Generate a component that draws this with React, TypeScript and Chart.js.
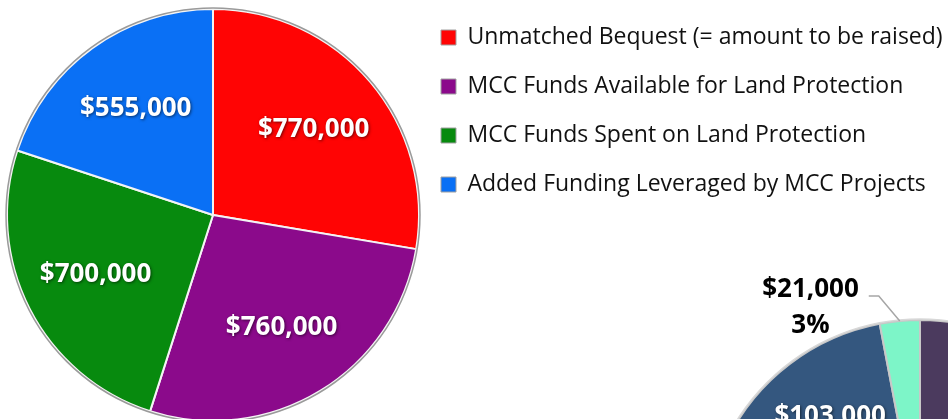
import React, { useEffect, useRef } from "react";
import { Chart, registerables } from "chart.js";

Chart.register(...registerables);

// ---- Data ----
const mainLabels = [
  "Unmatched Bequest (= amount to be raised)",
  "MCC Funds Available for Land Protection",
  "MCC Funds Spent on Land Protection",
  "Added Funding Leveraged by MCC Projects",
];
const mainValues = [770000, 760000, 700000, 555000];
const mainColors = ["#ff0404", "#8b0a8b", "#078a0e", "#0a70f5"];

const subLabels = ["Remaining", "Leveraged", "Other"];
const subValues = [576000, 103000, 21000];
const subColors = ["#4b3a5e", "#34577f", "#7df5c8"];

const FONT = '"Open Sans", "Noto Sans", sans-serif';

const fmt = (v: number) => "$" + v.toLocaleString("en-US");

const sliceLabels = {
  id: "sliceLabels",
  afterDatasetsDraw(chart: any, _args: any, opts: any) {
    const ctx = chart.ctx as CanvasRenderingContext2D;
    const meta = chart.getDatasetMeta(0);
    const data = chart.data.datasets[0].data as number[];
    const total = data.reduce((a, b) => a + b, 0);
    ctx.save();
    // outer ring
    const first: any = meta.data[0];
    if (first) {
      const p = first.getProps(["x", "y", "outerRadius"], true);
      ctx.beginPath();
      ctx.arc(p.x, p.y, p.outerRadius + 1, 0, Math.PI * 2);
      ctx.strokeStyle = opts.ringColor;
      ctx.lineWidth = 1.5;
      ctx.stroke();
    }
    ctx.font = `bold ${opts.size}px ${FONT}`;
    ctx.textAlign = "center";
    ctx.textBaseline = "middle";
    meta.data.forEach((arc: any, i: number) => {
      const { x, y, startAngle, endAngle, outerRadius } = arc.getProps(
        ["x", "y", "startAngle", "endAngle", "outerRadius"],
        true
      );
      const mid = (startAngle + endAngle) / 2;
      const share = data[i] / total;
      if (share < opts.minShare) {
        const px = x + Math.cos(mid) * outerRadius;
        const py = y + Math.sin(mid) * outerRadius;
        const ex = px + opts.elbow[0];
        const ey = py + opts.elbow[1];
        const lx = ex - opts.run;
        ctx.beginPath();
        ctx.moveTo(px, py);
        ctx.lineTo(ex, ey);
        ctx.lineTo(lx, ey);
        ctx.strokeStyle = "#a6a6a6";
        ctx.lineWidth = 1.5;
        ctx.stroke();
        const t1 = fmt(data[i]);
        const t2 = Math.round(share * 100) + "%";
        const w1 = ctx.measureText(t1).width;
        const cx = lx - opts.gap - w1 / 2;
        ctx.fillStyle = "#000";
        ctx.fillText(t1, cx, ey - 6);
        ctx.fillText(t2, cx, ey + 30);
      } else {
        const r = outerRadius * opts.factor;
        const lxp = x + Math.cos(mid) * r;
        const lyp = y + Math.sin(mid) * r;
        ctx.shadowColor = "rgba(0,0,0,0.55)";
        ctx.shadowBlur = 3;
        ctx.shadowOffsetX = 1;
        ctx.shadowOffsetY = 1;
        ctx.fillStyle = "#ffffff";
        ctx.fillText(fmt(data[i]), lxp, lyp);
        ctx.shadowColor = "transparent";
      }
    });
    ctx.restore();
  },
};

export default function App() {
  const mainRef = useRef<HTMLCanvasElement>(null);
  const subRef = useRef<HTMLCanvasElement>(null);

  useEffect(() => {
    const main = new Chart(mainRef.current!, {
      type: "pie",
      data: {
        labels: mainLabels,
        datasets: [
          {
            data: mainValues,
            backgroundColor: mainColors,
            borderColor: "#f4f4f4",
            borderWidth: 2,
            radius: 206,
          } as any,
        ],
      },
      options: {
        responsive: false,
        animation: false,
        devicePixelRatio: 1,
        layout: { padding: { left: 11, right: 0, top: 0, bottom: 0 } },
        plugins: {
          tooltip: { enabled: false },
          legend: {
            position: "right",
            align: "start",
            maxWidth: 533,
            labels: {
              font: { family: FONT, size: 23 },
              color: "#111111",
              boxWidth: 15,
              boxHeight: 15,
              padding: 26,
              generateLabels: (chart: any) =>
                chart.data.labels.map((l: string, i: number) => ({
                  text: l,
                  fillStyle: mainColors[i],
                  strokeStyle: "#a0a0a0",
                  lineWidth: 1,
                  hidden: false,
                  index: i,
                  fontColor: "#111111",
                })),
            },
          },
          sliceLabels: { size: 26, factor: 0.64, minShare: 0.05, ringColor: "#9a9a9a" },
        } as any,
      },
      plugins: [sliceLabels],
    });

    const sub = new Chart(subRef.current!, {
      type: "pie",
      data: {
        labels: subLabels,
        datasets: [
          {
            data: subValues,
            backgroundColor: subColors,
            borderColor: "#c8c8c8",
            borderWidth: 2,
            radius: 215,
          } as any,
        ],
      },
      options: {
        responsive: false,
        animation: false,
        devicePixelRatio: 1,
        layout: { padding: 0 },
        plugins: {
          tooltip: { enabled: false },
          legend: { display: false },
          sliceLabels: {
            size: 26,
            factor: 0.69,
            minShare: 0.05,
            elbow: [-21, -25],
            run: 10,
            gap: 10,
            ringColor: "#d8d8d8",
          },
        } as any,
      },
      plugins: [sliceLabels],
    });

    return () => {
      main.destroy();
      sub.destroy();
    };
  }, []);

  return (
    <div
      style={{
        position: "fixed",
        left: 0,
        top: 0,
        width: 948,
        height: 419,
        overflow: "hidden",
        background: "#ffffff",
      }}
    >
      <canvas
        ref={mainRef}
        width={948}
        height={430}
        style={{ position: "absolute", left: 0, top: 0, width: 948, height: 430 }}
      />
      <canvas
        ref={subRef}
        width={520}
        height={550}
        style={{ position: "absolute", left: 660, top: 260, width: 520, height: 550 }}
      />
    </div>
  );
}
